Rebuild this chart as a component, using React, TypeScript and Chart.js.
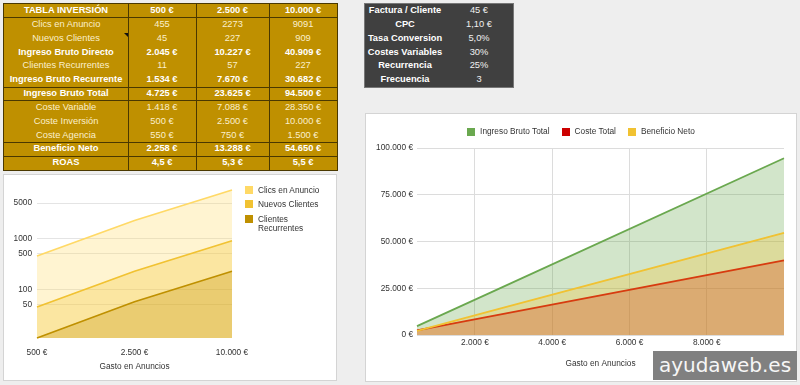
import React, { useEffect, useRef } from 'react';
import { Chart, registerables } from 'chart.js';

Chart.register(...registerables);

// ---------- data ----------
const spendLabels = ['500 €', '2.500 €', '10.000 €'];
const spendValues = [500, 2500, 10000];
const clicsEnAnuncio = [455, 2273, 9091];
const nuevosClientes = [45, 227, 909];
const clientesRecurrentes = [11, 57, 227];
const ingresoBrutoDirecto = [2045, 10227, 40909];
const ingresoBrutoRecurrente = [1534, 7670, 30682];
const ingresoBrutoTotal = [4725, 23625, 94500];
const costeVariable = [1418, 7088, 28350];
const costeInversion = [500, 2500, 10000];
const costeAgencia = [550, 750, 1500];
const costeTotal = [2468, 10338, 39850];
const beneficioNeto = [2258, 13288, 54650];
const roas = ['4,5 €', '5,3 €', '5,5 €'];

const logTicks = [50, 100, 500, 1000, 5000];
const moneyTicksY = [0, 25000, 50000, 75000, 100000];
const moneyTicksX = [2000, 4000, 6000, 8000];

const paramLabels = ['Factura / Cliente', 'CPC', 'Tasa Conversion', 'Costes Variables', 'Recurrencia', 'Frecuencia'];
const paramValues = ['45 €', '1,10 €', '5,0%', '30%', '25%', '3'];

const leftLegend = ['Clics en Anuncio', 'Nuevos Clientes', 'Clientes Recurrentes'];
const leftColors = ['#ffd966', '#f1c232', '#bf9000'];
const rightLegend = ['Ingreso Bruto Total', 'Coste Total', 'Beneficio Neto'];
const rightColors = ['#6aa84f', '#cc0000', '#f1c232'];

const FONT = '"Liberation Sans", Arial, sans-serif';
const TXT = '#333333';

const dots = (v: number) => String(v).replace(/\B(?=(\d{3})+(?!\d))/g, '.');
const eur = (v: number) => dots(v) + ' €';

type Row = { label: string; values: string[]; bold: boolean; lineBelow: boolean };
const tableRows: Row[] = [
  { label: 'TABLA INVERSIÓN', values: spendLabels, bold: true, lineBelow: true },
  { label: 'Clics en Anuncio', values: clicsEnAnuncio.map(String), bold: false, lineBelow: false },
  { label: 'Nuevos Clientes', values: nuevosClientes.map(String), bold: false, lineBelow: false },
  { label: 'Ingreso Bruto Directo', values: ingresoBrutoDirecto.map(eur), bold: true, lineBelow: false },
  { label: 'Clientes Recurrentes', values: clientesRecurrentes.map(String), bold: false, lineBelow: false },
  { label: 'Ingreso Bruto Recurrente', values: ingresoBrutoRecurrente.map(eur), bold: true, lineBelow: true },
  { label: 'Ingreso Bruto Total', values: ingresoBrutoTotal.map(eur), bold: true, lineBelow: true },
  { label: 'Coste Variable', values: costeVariable.map(eur), bold: false, lineBelow: false },
  { label: 'Coste Inversión', values: costeInversion.map(eur), bold: false, lineBelow: false },
  { label: 'Coste Agencia', values: costeAgencia.map(eur), bold: false, lineBelow: true },
  { label: 'Beneficio Neto', values: beneficioNeto.map(eur), bold: true, lineBelow: true },
  { label: 'ROAS', values: roas, bold: true, lineBelow: false },
];

const ROW_H = 166 / 12;
const colW = [124, 68, 73, 68];

function InvestmentTable() {
  const xs = [0, 124, 192, 265];
  return (
    <div style={{ position: 'absolute', left: 3, top: 3, width: 333, height: 166, border: '1px solid #4a3800', background: '#bf9000', fontFamily: FONT, fontSize: 9.3 }}>
      {tableRows.map((r, i) => (
        <React.Fragment key={i}>
          {[r.label, ...r.values].map((t, j) => (
            <div key={j} style={{ position: 'absolute', left: xs[j], top: i * ROW_H, width: colW[j], height: ROW_H, lineHeight: ROW_H + 'px', textAlign: 'center', whiteSpace: 'nowrap', fontWeight: r.bold ? 700 : 400, color: r.bold ? '#ffffff' : '#fbefcc' }}>{t}</div>
          ))}
          {r.lineBelow && <div style={{ position: 'absolute', left: 0, top: (i + 1) * ROW_H - 0.5, width: 333, height: 1, background: '#4a3800' }} />}
        </React.Fragment>
      ))}
      {[124, 192, 265].map((x, k) => (
        <div key={k} style={{ position: 'absolute', left: x - 0.5, top: 0, width: 1, height: 166, background: '#4a3800' }} />
      ))}
      <div style={{ position: 'absolute', left: 120, top: 2 * ROW_H + 1, width: 0, height: 0, borderTop: '4px solid #111', borderLeft: '4px solid transparent' }} />
    </div>
  );
}

function ParamTable() {
  const h = 83 / 6;
  return (
    <div style={{ position: 'absolute', left: 364, top: 3, width: 148, height: 83, border: '1px solid #777', background: '#404040', fontFamily: FONT, fontSize: 9.3, color: '#fff' }}>
      {paramLabels.map((l, i) => (
        <React.Fragment key={i}>
          <div style={{ position: 'absolute', left: 0, top: i * h, width: 80, height: h, lineHeight: h + 'px', textAlign: 'center', fontWeight: 700, whiteSpace: 'nowrap' }}>{l}</div>
          <div style={{ position: 'absolute', left: 80, top: i * h, width: 68, height: h, lineHeight: h + 'px', textAlign: 'center', color: '#f0f0f0' }}>{paramValues[i]}</div>
        </React.Fragment>
      ))}
    </div>
  );
}

function LeftChart() {
  const ref = useRef<HTMLCanvasElement>(null);
  useEffect(() => {
    const font = { family: FONT, size: 8.3 };
    const chart = new Chart(ref.current!, {
      type: 'line',
      data: {
        labels: spendLabels,
        datasets: [
          { label: leftLegend[0], data: clicsEnAnuncio, borderColor: leftColors[0], backgroundColor: 'rgba(255,217,102,0.3)', fill: 'start', order: 3 },
          { label: leftLegend[1], data: nuevosClientes, borderColor: leftColors[1], backgroundColor: 'rgba(241,194,50,0.3)', fill: 'start', order: 2 },
          { label: leftLegend[2], data: clientesRecurrentes, borderColor: leftColors[2], backgroundColor: 'rgba(191,144,0,0.3)', fill: 'start', order: 1 },
        ],
      },
      options: {
        responsive: false,
        animation: false,
        layout: { padding: { top: 15, right: 104, left: 0, bottom: 0 } },
        elements: { point: { radius: 0 }, line: { borderWidth: 1.7, tension: 0 } },
        datasets: { line: { clip: false } } as any,
        plugins: { legend: { display: false }, tooltip: { enabled: false } },
        scales: {
          x: {
            type: 'category',
            offset: false,
            grid: { display: false },
            border: { display: false },
            ticks: { font, color: TXT, padding: 2, maxRotation: 0, autoSkip: false },
            title: { display: true, text: 'Gasto en Anuncios', font, color: TXT, padding: { top: 0, bottom: 8 } },
            afterFit: (s: any) => { s.height = 42; },
          },
          y: {
            type: 'logarithmic',
            min: 11,
            max: 9091,
            afterBuildTicks: (s: any) => { s.ticks = logTicks.map((v) => ({ value: v })); },
            ticks: { font, color: TXT, padding: 5, callback: (v: any) => String(v) },
            grid: { color: '#e4e4e4', drawTicks: false },
            border: { display: false },
            afterFit: (s: any) => { s.width = 33; },
          },
        },
      } as any,
    });
    return () => chart.destroy();
  }, []);
  return (
    <div style={{ position: 'absolute', left: 3, top: 174, width: 332, height: 205, border: '1px solid #d4d4d4', background: '#fff' }}>
      <canvas ref={ref} width={332} height={205} style={{ position: 'absolute', left: 0, top: 0, width: 332, height: 205 }} />
      {leftLegend.map((l, i) => (
        <div key={i} style={{ position: 'absolute', left: 241, top: [11, 25, 40][i], display: 'flex', alignItems: 'flex-start', fontFamily: FONT, fontSize: 8.3, color: TXT, lineHeight: '8.5px' }}>
          <div style={{ width: 8, height: 8, background: leftColors[i], marginRight: 5, flex: 'none' }} />
          <div style={{ width: 70 }}>{i === 2 ? <>Clientes<br />Recurrentes</> : l}</div>
        </div>
      ))}
    </div>
  );
}

function RightChart() {
  const ref = useRef<HTMLCanvasElement>(null);
  useEffect(() => {
    const font = { family: FONT, size: 8.3 };
    const pts = (ys: number[]) => spendValues.map((x, i) => ({ x, y: ys[i] }));
    const chart = new Chart(ref.current!, {
      type: 'line',
      data: {
        datasets: [
          { label: rightLegend[0], data: pts(ingresoBrutoTotal), borderColor: rightColors[0], backgroundColor: 'rgba(106,168,79,0.3)', fill: 'origin', order: 3 },
          { label: rightLegend[1], data: pts(costeTotal), borderColor: rightColors[1], backgroundColor: 'rgba(204,0,0,0.3)', fill: 'origin', order: 2 },
          { label: rightLegend[2], data: pts(beneficioNeto), borderColor: rightColors[2], backgroundColor: 'rgba(241,194,50,0.3)', fill: 'origin', order: 1 },
        ],
      },
      options: {
        responsive: false,
        animation: false,
        layout: { padding: { top: 34, right: 12, left: 0, bottom: 0 } },
        elements: { point: { radius: 0 }, line: { borderWidth: 1.8, tension: 0 } },
        datasets: { line: { clip: false } } as any,
        plugins: { legend: { display: false }, tooltip: { enabled: false } },
        scales: {
          x: {
            type: 'linear',
            min: 500,
            max: 10000,
            afterBuildTicks: (s: any) => { s.ticks = moneyTicksX.map((v) => ({ value: v })); },
            ticks: { font, color: TXT, padding: 3, maxRotation: 0, autoSkip: false, callback: (v: any) => eur(v) },
            grid: { color: '#dcdcdc', drawTicks: false },
            border: { display: false },
            title: { display: true, text: 'Gasto en Anuncios', font, color: TXT, padding: { top: 0, bottom: 12 } },
            afterFit: (s: any) => { s.height = 46; },
          },
          y: {
            min: 0,
            max: 100000,
            afterBuildTicks: (s: any) => { s.ticks = moneyTicksY.map((v) => ({ value: v })); },
            ticks: { font, color: TXT, padding: 4, callback: (v: any) => eur(v) },
            grid: { color: '#dcdcdc', drawTicks: false },
            border: { display: false },
            afterFit: (s: any) => { s.width = 51; },
          },
        },
      } as any,
    });
    return () => chart.destroy();
  }, []);
  return (
    <div style={{ position: 'absolute', left: 365, top: 113, width: 430, height: 267, border: '1px solid #d4d4d4', background: '#fff' }}>
      <canvas ref={ref} width={430} height={267} style={{ position: 'absolute', left: 0, top: 0, width: 430, height: 267 }} />
      <div style={{ position: 'absolute', left: 0, top: 13, width: 430, display: 'flex', justifyContent: 'center', fontFamily: FONT, fontSize: 8.3, color: TXT, lineHeight: '9px' }}>
        {rightLegend.map((l, i) => (
          <div key={i} style={{ display: 'flex', alignItems: 'center', marginRight: i < 2 ? 12 : 0 }}>
            <div style={{ width: 8, height: 8, background: rightColors[i], marginRight: 5 }} />
            <span style={{ whiteSpace: 'nowrap' }}>{l}</span>
          </div>
        ))}
      </div>
    </div>
  );
}

export default function App() {
  return (
    <div style={{ position: 'fixed', left: 0, top: 0, width: 800, height: 385, background: '#eeeeee', overflow: 'hidden' }}>
      <InvestmentTable />
      <ParamTable />
      <LeftChart />
      <RightChart />
      <div style={{ position: 'absolute', left: 653, top: 351, width: 144, height: 29, lineHeight: '29px', background: '#808080', color: '#f6f6f6', fontFamily: '"DejaVu Sans", Verdana, sans-serif', fontSize: 20, textAlign: 'center', whiteSpace: 'nowrap' }}>ayudaweb.es</div>
    </div>
  );
}
